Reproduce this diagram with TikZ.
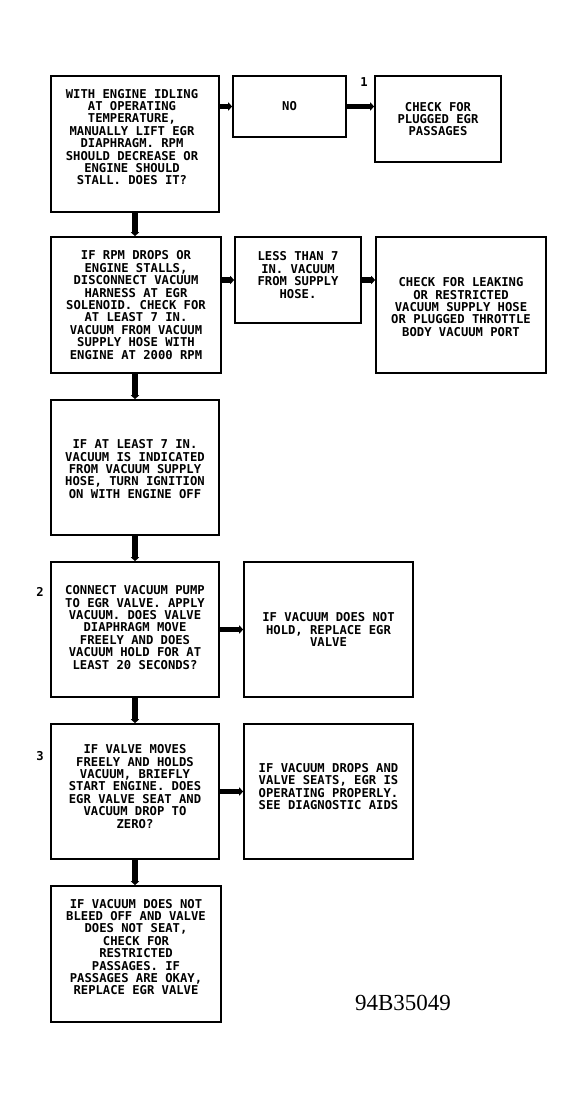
\documentclass[tikz,border=0pt]{standalone}
\usepackage{fontspec}
\setmainfont{Liberation Serif}
\newfontfamily\plotfont{DejaVu Sans Mono}
\usetikzlibrary{arrows.meta}
\begin{document}
\begin{tikzpicture}[x=1pt,y=-1pt,
  box/.style={draw=black, line width=1.6pt, fill=white, inner sep=0pt},
  txt/.style={align=center, inner sep=0pt, font=\plotfont\bfseries\fontsize{12.2}{12.4}\selectfont},
  num/.style={inner sep=0pt, font=\plotfont\bfseries\fontsize{12.2}{12.4}\selectfont},
  arr/.style={line width=5.5pt, -{Triangle[length=4pt,width=8pt]}}]
\useasboundingbox (0,0) rectangle (585,1099);
% boxes
\node[box, minimum width=168pt, minimum height=136pt] (A) at (135,144) {};
\node[box, minimum width=113pt, minimum height=61pt] (NO) at (289.5,106.5) {};
\node[box, minimum width=126pt, minimum height=86pt] (C1) at (438,119) {};
\node[box, minimum width=170pt, minimum height=136pt] (B) at (136,305) {};
\node[box, minimum width=126pt, minimum height=86pt] (L) at (298,280) {};
\node[box, minimum width=170pt, minimum height=136pt] (C2) at (461,305) {};
\node[box, minimum width=168pt, minimum height=135pt] (C) at (135,467.5) {};
\node[box, minimum width=168pt, minimum height=135pt] (D) at (135,629.5) {};
\node[box, minimum width=169pt, minimum height=135pt] (DR) at (328.5,629.5) {};
\node[box, minimum width=168pt, minimum height=135pt] (E) at (135,791.5) {};
\node[box, minimum width=169pt, minimum height=135pt] (ER) at (328.5,791.5) {};
\node[box, minimum width=170pt, minimum height=136pt] (F) at (136,954) {};
% texts
\node[txt] (tA) at ([xshift=-3pt,yshift=7pt]A.center) {WITH ENGINE IDLING\\AT OPERATING\\TEMPERATURE,\\MANUALLY LIFT EGR\\DIAPHRAGM. RPM\\SHOULD DECREASE OR\\ENGINE SHOULD\\STALL. DOES IT?};
\node[txt] (tNO) at (NO.center) {NO};
\node[txt] (tC1) at (C1.center) {CHECK FOR\\PLUGGED EGR\\PASSAGES};
\node[txt] (tB) at (B.center) {IF RPM DROPS OR\\ENGINE STALLS,\\DISCONNECT VACUUM\\HARNESS AT EGR\\SOLENOID. CHECK FOR\\AT LEAST 7 IN.\\VACUUM FROM VACUUM\\SUPPLY HOSE WITH\\ENGINE AT 2000 RPM};
\node[txt] (tL) at ([yshift=5pt]L.center) {LESS THAN 7\\IN. VACUUM\\FROM SUPPLY\\HOSE.};
\node[txt] (tC2) at ([yshift=-2pt]C2.center) {CHECK FOR LEAKING\\OR RESTRICTED\\VACUUM SUPPLY HOSE\\OR PLUGGED THROTTLE\\BODY VACUUM PORT};
\node[txt] (tC) at ([yshift=-1.5pt]C.center) {IF AT LEAST 7 IN.\\VACUUM IS INDICATED\\FROM VACUUM SUPPLY\\HOSE, TURN IGNITION\\ON WITH ENGINE OFF};
\node[txt] (tD) at ([yshift=2pt]D.center) {CONNECT VACUUM PUMP\\TO EGR VALVE. APPLY\\VACUUM. DOES VALVE\\DIAPHRAGM MOVE\\FREELY AND DOES\\VACUUM HOLD FOR AT\\LEAST 20 SECONDS?};
\node[txt] (tDR) at (DR.center) {IF VACUUM DOES NOT\\HOLD, REPLACE EGR\\VALVE};
\node[txt] (tE) at ([yshift=5pt]E.center) {IF VALVE MOVES\\FREELY AND HOLDS\\VACUUM, BRIEFLY\\START ENGINE. DOES\\EGR VALVE SEAT AND\\VACUUM DROP TO\\ZERO?};
\node[txt] (tER) at ([yshift=5pt]ER.center) {IF VACUUM DROPS AND\\VALVE SEATS, EGR IS\\OPERATING PROPERLY.\\SEE DIAGNOSTIC AIDS};
\node[txt] (tF) at ([yshift=7pt]F.center) {IF VACUUM DOES NOT\\BLEED OFF AND VALVE\\DOES NOT SEAT,\\CHECK FOR\\RESTRICTED\\PASSAGES. IF\\PASSAGES ARE OKAY,\\REPLACE EGR VALVE};
% step numbers
\node[num] (n1) at (364,82) {1};
\node[num] (n2) at (40,592) {2};
\node[num] (n3) at (40,756) {3};
% figure code
\node[inner sep=0pt, font=\fontsize{23}{23}\selectfont] (code) at (403,1003) {94B35049};
% connectors
\draw[arr] (A.east |- NO.west) -- (NO.west);
\draw[arr] (NO.east) -- (C1.west |- NO.east);
\draw[arr] (B.east |- L.west) -- (L.west);
\draw[arr] (L.east) -- (C2.west |- L.east);
\draw[arr] (D.east) -- (DR.west);
\draw[arr] (E.east) -- (ER.west);
\draw[arr] (A.south) -- (B.north -| A.south);
\draw[arr] (B.south -| A.south) -- (C.north);
\draw[arr] (C.south) -- (D.north);
\draw[arr] (D.south) -- (E.north);
\draw[arr] (E.south) -- (F.north -| E.south);
\end{tikzpicture}
\end{document}
